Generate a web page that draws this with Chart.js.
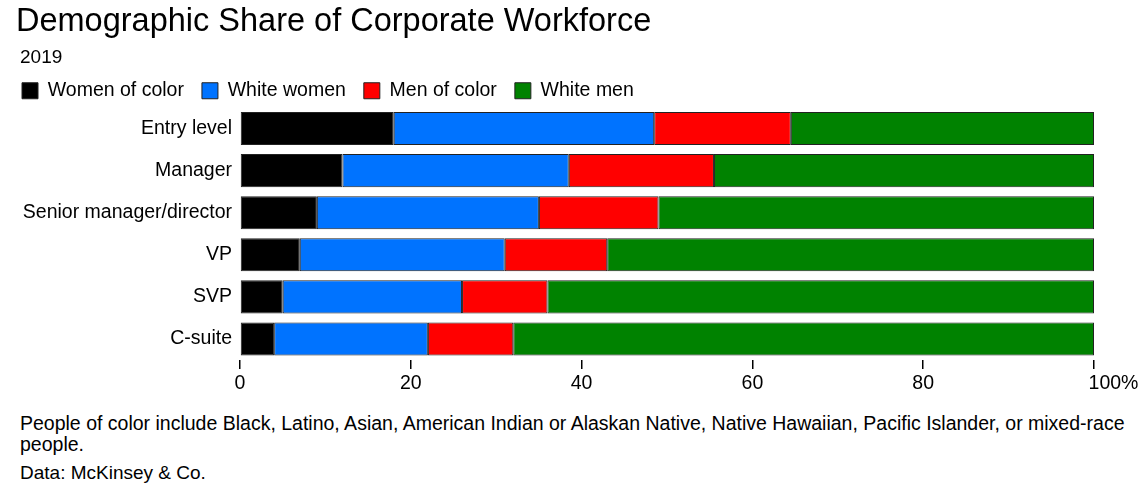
<!DOCTYPE html>
<html>
<head>
<meta charset="utf-8">
<script src="https://cdn.jsdelivr.net/npm/chart.js@4.4.1/dist/chart.umd.min.js"></script>
<style>
  body { margin: 0; background: #fff; font-family: "Liberation Sans", Arial, sans-serif; color: #000; }
  #page { position: relative; width: 1145px; height: 492px; overflow: hidden; }
  #title { position: absolute; left: 16px; top: 2px; font-size: 32.5px; white-space: nowrap; }
  #sub { position: absolute; left: 20px; top: 46px; font-size: 19px; }
  #chartBox { position: absolute; left: 0; top: 0; width: 1145px; height: 400px; }
  #note { position: absolute; left: 20px; top: 413px; font-size: 19.5px; line-height: 21px; white-space: nowrap; }
  #source { position: absolute; left: 20px; top: 462px; font-size: 19px; }
</style>
</head>
<body>
<div id="page">
  <div id="chartBox"><canvas id="workforceChart"></canvas></div>
  <div id="title">Demographic Share of Corporate Workforce</div>
  <div id="sub">2019</div>
  <div id="note">People of color include Black, Latino, Asian, American Indian or Alaskan Native, Native Hawaiian, Pacific Islander, or mixed-race<br>people.</div>
  <div id="source">Data: McKinsey &amp; Co.</div>
</div>
<script>
const categories = ["Entry level", "Manager", "Senior manager/director", "VP", "SVP", "C-suite"];
const womenOfColor = [18, 12, 9, 7, 5, 4];
const whiteWomen = [30.5, 26.5, 26, 24, 21, 18];
const menOfColor = [16, 17, 14, 12, 10, 10];
const whiteMen = [35.5, 44.5, 51, 57, 64, 68];
const xTicks = [0, 20, 40, 60, 80, 100];

function makeSet(label, data, color) {
    return {
        label: label,
        data: data,
        backgroundColor: color,
        borderColor: "#222",
        borderWidth: 1,
        borderSkipped: false,
        barPercentage: 33 / 42,
        categoryPercentage: 1
    };
}

// pull the legend a bit closer to the bars
const legendGap = {
    id: "legendGap",
    beforeInit(chart) {
        const fit = chart.legend.fit;
        chart.legend.fit = function () {
            fit.call(this);
            this.height -= 3;
        };
    }
};

const ctx = document.getElementById("workforceChart").getContext("2d");
new Chart(ctx, {
    type: "bar",
    data: {
        labels: categories,
        datasets: [
            makeSet("Women of color", womenOfColor, "#000000"),
            makeSet("White women", whiteWomen, "#0073ff"),
            makeSet("Men of color", menOfColor, "#ff0000"),
            makeSet("White men", whiteMen, "#008200")
        ]
    },
    plugins: [legendGap],
    options: {
        indexAxis: "y",
        responsive: true,
        maintainAspectRatio: false,
        animation: false,
        layout: { padding: { left: 4, right: 51, top: 63, bottom: 0 } },
        plugins: {
            legend: {
                position: "top",
                align: "start",
                labels: {
                    boxWidth: 16,
                    boxHeight: 16,
                    padding: 18,
                    color: "#000",
                    font: { family: "Liberation Sans", size: 19.5 }
                }
            },
            tooltip: { enabled: false }
        },
        scales: {
            x: {
                stacked: true,
                min: 0,
                max: 100,
                afterBuildTicks: scale => { scale.ticks = xTicks.map(v => ({ value: v })); },
                afterFit: scale => { scale.height = 40; },
                border: { display: false },
                grid: { drawOnChartArea: false, drawTicks: true, tickLength: 9, color: "#000", lineWidth: 1.5 },
                ticks: {
                    color: "#000",
                    padding: 3,
                    font: { family: "Liberation Sans", size: 19.5 },
                    // the % sign hangs to the right of the last tick
                    callback: v => v === 100 ? "\u2003\u2003100%" : v
                }
            },
            y: {
                stacked: true,
                afterFit: scale => { scale.width = 236; },
                border: { display: false },
                grid: { display: false },
                ticks: {
                    color: "#000",
                    padding: 0,
                    font: { family: "Liberation Sans", size: 19.5 }
                }
            }
        }
    }
});
</script>
</body>
</html>
